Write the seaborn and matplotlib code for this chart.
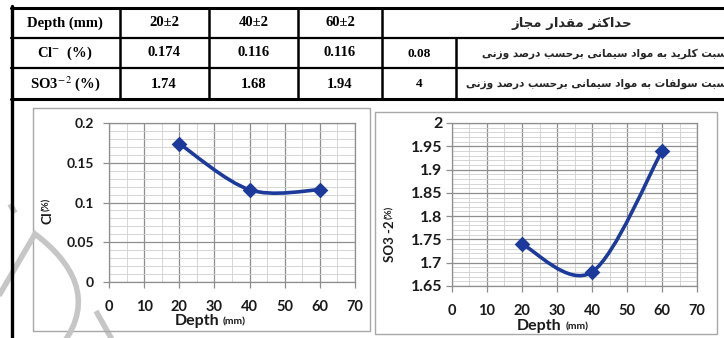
import numpy as np
import matplotlib
matplotlib.use("Agg")
import matplotlib.pyplot as plt
from matplotlib.path import Path
from matplotlib.patches import PathPatch
from matplotlib.ticker import MultipleLocator
import seaborn as sns

depth = [20, 40, 60]
depth_labels = ['20±2', '40±2', '60±2']
cl = [0.174, 0.116, 0.116]
so3 = [1.74, 1.68, 1.94]
limit_cl = '0.08'
limit_so3 = '4'
head_fa = 'حداکثر مقدار مجاز'
row_cl_fa = 'نسبت کلرید به مواد سیمانی برحسب درصد وزنی'
row_so3_fa = 'نسبت سولفات به مواد سیمانی برحسب درصد وزنی'

sns.set_theme(style='white')
plt.rcParams['font.family'] = ['Lato', 'DejaVu Sans']
plt.rcParams['mathtext.fontset'] = 'stix'

W, H = 724, 338
BLUE = '#1b3a9c'

# minimal persian shaping (presentation forms + visual order)
FORMS = {
    'ا': ('\uFE8D', '\uFE8E', None, None),
    'ب': ('\uFE8F', '\uFE90', '\uFE91', '\uFE92'),
    'ت': ('\uFE95', '\uFE96', '\uFE97', '\uFE98'),
    'ث': ('\uFE99', '\uFE9A', '\uFE9B', '\uFE9C'),
    'ج': ('\uFE9D', '\uFE9E', '\uFE9F', '\uFEA0'),
    'ح': ('\uFEA1', '\uFEA2', '\uFEA3', '\uFEA4'),
    'د': ('\uFEA9', '\uFEAA', None, None),
    'ر': ('\uFEAD', '\uFEAE', None, None),
    'ز': ('\uFEAF', '\uFEB0', None, None),
    'س': ('\uFEB1', '\uFEB2', '\uFEB3', '\uFEB4'),
    'ص': ('\uFEB9', '\uFEBA', '\uFEBB', '\uFEBC'),
    'ف': ('\uFED1', '\uFED2', '\uFED3', '\uFED4'),
    'ق': ('\uFED5', '\uFED6', '\uFED7', '\uFED8'),
    'ل': ('\uFEDD', '\uFEDE', '\uFEDF', '\uFEE0'),
    'م': ('\uFEE1', '\uFEE2', '\uFEE3', '\uFEE4'),
    'ن': ('\uFEE5', '\uFEE6', '\uFEE7', '\uFEE8'),
    'ه': ('\uFEE9', '\uFEEA', '\uFEEB', '\uFEEC'),
    'و': ('\uFEED', '\uFEEE', None, None),
    '\u06a9': ('\uFB8E', '\uFB8F', '\uFB90', '\uFB91'),
    '\u06cc': ('\uFBFC', '\uFBFD', '\uFBFE', '\uFBFF'),
}


def shape_fa(s):
    s = s.replace('\u0643', '\u06a9').replace('\u064a', '\u06cc')
    out = []
    for i, ch in enumerate(s):
        if ch not in FORMS:
            out.append(ch)
            continue
        prev = s[i - 1] if i > 0 else ''
        nxt = s[i + 1] if i + 1 < len(s) else ''
        join_prev = prev in FORMS and FORMS[prev][2] is not None
        join_next = nxt in FORMS and FORMS[ch][2] is not None
        iso, fin, ini, med = FORMS[ch]
        if join_prev and join_next:
            out.append(med)
        elif join_prev:
            out.append(fin)
        elif join_next:
            out.append(ini)
        else:
            out.append(iso)
    return ''.join(out)[::-1]


def smooth_path(xs, ys):
    # excel style smoothed line drawn as bezier segments
    pts = np.column_stack([xs, ys]).astype(float)
    n = len(pts)
    verts = [pts[0]]
    codes = [Path.MOVETO]
    for i in range(n - 1):
        p0 = pts[i - 1] if i > 0 else pts[i]
        p1, p2 = pts[i], pts[i + 1]
        p3 = pts[i + 2] if i + 2 < n else pts[i + 1]
        verts += [p1 + (p2 - p0) / 6, p2 - (p3 - p1) / 6, p2]
        codes += [Path.CURVE4] * 3
    return Path(verts, codes)


fig = plt.figure(figsize=(W / 100, H / 100), dpi=100)


def add_chart(left, top, right, bottom, ylim, ystep, yvals, ylabsize, ypad):
    ax = fig.add_axes([left / W, 1 - bottom / H, (right - left) / W, (bottom - top) / H])
    ax.set_xlim(0, 70)
    ax.set_ylim(*ylim)
    ax.xaxis.set_major_locator(MultipleLocator(10))
    ax.xaxis.set_minor_locator(MultipleLocator(5))
    ax.yaxis.set_major_locator(MultipleLocator(ystep))
    ax.yaxis.set_minor_locator(MultipleLocator(0.01))
    ax.grid(which='major', color='#8e8e8e', lw=0.9)
    ax.grid(which='minor', color='#cfcfcf', lw=0.6)
    ax.set_axisbelow(True)
    for s in ax.spines.values():
        s.set_color('#8e8e8e')
        s.set_linewidth(0.9)
    ax.tick_params(which='major', direction='out', length=4, width=0.9, color='#8e8e8e',
                   bottom=True, left=True)
    ax.tick_params(which='minor', length=0)
    ax.tick_params(axis='x', labelsize=10.5, pad=9, labelcolor='#1a1a1a')
    ax.tick_params(axis='y', labelsize=ylabsize, pad=ypad, labelcolor='#1a1a1a')
    for lab in ax.get_xticklabels() + ax.get_yticklabels():
        lab.set_fontweight('bold')
    ax.yaxis.set_major_formatter(matplotlib.ticker.FuncFormatter(lambda v, p: f'{v:g}'))
    ax.add_patch(PathPatch(smooth_path(depth, yvals), fill=False, ec=BLUE, lw=2.6,
                           capstyle='round', zorder=3))
    sns.scatterplot(x=depth, y=yvals, marker='D', s=64, color=BLUE, edgecolor=BLUE,
                    linewidth=0, ax=ax, zorder=4, clip_on=False)
    ax.set_xlabel('')
    ax.set_ylabel('')
    ax.text(0.448, -0.245, 'Depth', transform=ax.transAxes, ha='right', va='center',
            fontsize=11.5, fontweight='bold', color='#1a1a1a')
    ax.text(0.462, -0.25, '(mm)', transform=ax.transAxes, ha='left', va='center',
            fontsize=7.5, fontweight='bold', color='#1a1a1a')
    return ax


ax1 = add_chart(109, 123, 355, 282, (0, 0.2), 0.05, cl, 10, 7)
ax2 = add_chart(452, 123, 697, 286, (1.65, 2.0), 0.05, so3, 11.5, 3)

# overlay in pixel coordinates: table, chart frames, watermark
ov = fig.add_axes([0, 0, 1, 1], zorder=5)
ov.set_xlim(0, W)
ov.set_ylim(H, 0)
ov.axis('off')
ov.patch.set_alpha(0)

# y labels
ov.text(47, 224, 'Cl', rotation=90, ha='center', va='bottom', fontsize=10,
        fontweight='bold', color='#1a1a1a')
ov.text(47, 211, '(%)', rotation=90, ha='center', va='bottom', fontsize=7,
        fontweight='bold', color='#1a1a1a')
ov.text(390, 262, 'SO3 -2', rotation=90, ha='center', va='bottom', fontsize=9.5,
        fontweight='bold', color='#1a1a1a')
ov.text(390, 219, '(%)', rotation=90, ha='center', va='bottom', fontsize=7,
        fontweight='bold', color='#1a1a1a')

# chart frames
ov.add_patch(plt.Rectangle((33, 108), 337, 223, fill=False, ec='#a8a8a8', lw=1))
ov.add_patch(plt.Rectangle((375, 112), 342, 222, fill=False, ec='#a8a8a8', lw=1))

# table lines
k = 'black'
ov.plot([11, W + 5], [7.5, 7.5], color=k, lw=2.2)
ov.plot([11, W + 5], [38, 38], color=k, lw=1.6)
ov.plot([11, W + 5], [68, 68], color=k, lw=1.6)
ov.plot([11, W + 5], [99, 99], color=k, lw=2.2)
ov.plot([11.5, 11.5], [6, H + 2], color=k, lw=2.4)
for x in [119.5, 209, 298, 382]:
    ov.plot([x, x], [7.5, 99], color=k, lw=1.8)
ov.plot([456, 456], [38, 99], color=k, lw=1.8)

serif = dict(family='Liberation Serif', fontweight='bold', fontsize=10.5, ha='center',
             va='center', color='black')
col_c = [65, 164, 253.5, 340]
ov.text(col_c[0], 23, 'Depth (mm)', **serif)
ov.text(col_c[0], 53, r'Cl$^{-}$  (%)', **serif)
ov.text(col_c[0], 84, r'SO3$^{-\,2}$ (%)', **serif)
for c, lab, a, b in zip(col_c[1:], depth_labels, cl, so3):
    ov.text(c, 23, lab, **serif)
    ov.text(c, 53, f'{a:.3f}', **serif)
    ov.text(c, 84, f'{b:.2f}', **serif)
ov.text(419, 54, limit_cl, **{**serif, 'fontsize': 9.5})
ov.text(419, 84, limit_so3, **{**serif, 'fontsize': 9.5})

ov.text(572, 23, shape_fa(head_fa), ha='center', va='center', fontsize=9.5,
        fontweight='bold', family=['DejaVu Sans'])
# the persian cells run past the right edge of the scan, so the text is clipped there
ov.text(731, 54, shape_fa(row_cl_fa), ha='right', va='center', fontsize=7.6,
        fontweight='bold', family=['DejaVu Sans'])
ov.text(731, 84, shape_fa(row_so3_fa), ha='right', va='center', fontsize=7.6,
        fontweight='bold', family=['DejaVu Sans'])

# faint scan watermark
wm = dict(color='#c6c6c6', lw=4, solid_capstyle='butt', zorder=0.5)
drop = Path([(-10, 311), (35, 234), (72, 262), (96, 300), (62, 345)],
            [Path.MOVETO, Path.LINETO, Path.CURVE4, Path.CURVE4, Path.CURVE4])
ov.add_patch(PathPatch(drop, fill=False, ec=wm['color'], lw=wm['lw']))
ov.plot([96, 115], [311, 345], **wm)
ov.plot([10, 15], [204, 213], **wm)

fig.savefig('out.png', dpi=100)
